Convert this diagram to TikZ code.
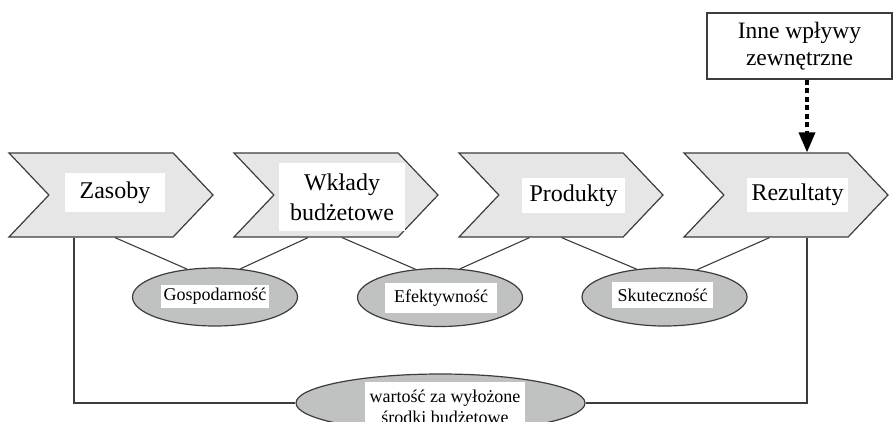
\documentclass[tikz,border=0pt]{standalone}
\usepackage{fontspec}
\setmainfont{Liberation Serif}
\usepackage{tikz}
\usetikzlibrary{
    calc,
    positioning,
    arrows.meta,
    shapes.symbols,
    shapes.geometric
}
\definecolor{stagegray}{HTML}{E6E6E6}
\definecolor{measuregray}{HTML}{C0C2C2}
\definecolor{linegray}{HTML}{3C3C3C}
\tikzset{
    stage/.style={
        shape=signal, signal from=west, signal to=east, signal pointer angle=93,
        draw=linegray, fill=stagegray, line width=1.2pt,
        minimum width=204pt, minimum height=84pt, inner sep=0pt
    },
    stage label/.style={
        fill=white, inner sep=0pt, align=center,
        font=\fontsize{24}{30}\selectfont
    },
    measure/.style={
        shape=ellipse, draw=linegray, fill=measuregray, line width=1.2pt,
        minimum width=#1, minimum height=58pt, inner sep=0pt
    },
    measure/.default=165pt,
    measure label/.style={
        fill=white, inner sep=0pt, align=center,
        font=\fontsize{18}{21}\selectfont
    },
    link/.style={draw=linegray, line width=1.1pt},
}

\begin{document}
\begin{tikzpicture}[x=1pt, y=-1pt]
    \useasboundingbox (0,0) rectangle (893,421);
    \clip (0,0) rectangle (893,421);
    % stages
    \node[stage] (zasoby)    at (111,195) {};
    \node[stage] (wklady)    at (336,195) {};
    \node[stage] (produkty)  at (561,195) {};
    \node[stage] (rezultaty) at (786,195) {};
    \node[stage label, minimum width=100pt, minimum height=39pt] (zasoby-txt) at (115,192.5) {Zasoby};
    \node[stage label, minimum width=126pt, minimum height=68pt] (wklady-txt) at (342,197) {Wkłady\\budżetowe};
    \node[stage label, minimum width=103pt, minimum height=35pt] (produkty-txt) at (573.5,195.5) {Produkty};
    \node[stage label, minimum width=101pt, minimum height=34pt] (rezultaty-txt) at (797.5,195) {Rezultaty};
    % measures
    \node[measure] (gosp)  at (215,297) {};
    \node[measure] (efekt) at (440,297.5) {};
    \node[measure] (skut)  at (664.5,297) {};
    \node[measure label, minimum width=108pt, minimum height=23pt] (gosp-txt) at (215,296.5) {Gospodarność};
    \node[measure label, minimum width=112pt, minimum height=30pt] (efekt-txt) at (441,298) {Efektywność};
    \node[measure label, minimum width=101pt, minimum height=26pt] (skut-txt) at (662.5,295) {Skuteczność};
    \draw[link] ([xshift=4pt]zasoby.south) -- (gosp.135);
    \draw[link] ([xshift=-28pt]wklady.south) -- (gosp.48);
    \draw[link] ([xshift=6pt]wklady.south) -- (efekt.131);
    \draw[link] ([xshift=-31.5pt]produkty.south) -- (efekt.55);
    \draw[link] ([xshift=0.5pt]produkty.south) -- (skut.135);
    \draw[link] ([xshift=-16.5pt]rezultaty.south) -- (skut.40);
    % value for money
    \node[measure=289pt] (wartosc) at (440.5,403) {};
    \node[measure label, anchor=north, minimum width=160pt, inner ysep=8pt] (wartosc-txt) at (445,382) {wartość za wyłożone\\środki budżetowe};
    \draw[link] ([xshift=-37pt]zasoby.south) |- (wartosc.west);
    \draw[link] ([xshift=21pt]rezultaty.south) |- (wartosc.east);
    % external influences
    \node[draw=linegray, line width=1.2pt, minimum width=185pt, minimum height=66pt, inner sep=0pt,
        align=center, font=\fontsize{23.5}{27}\selectfont] (inne) at (799.5,46) {Inne wpływy\\zewnętrzne};
    \draw[line width=3.5pt, dash pattern=on 5pt off 3.5pt, -{Triangle[length=20pt,width=16pt]}]
        ([xshift=7.5pt]inne.south) -- ([xshift=7.5pt]inne.south |- rezultaty.north);
\end{tikzpicture}
\end{document}
